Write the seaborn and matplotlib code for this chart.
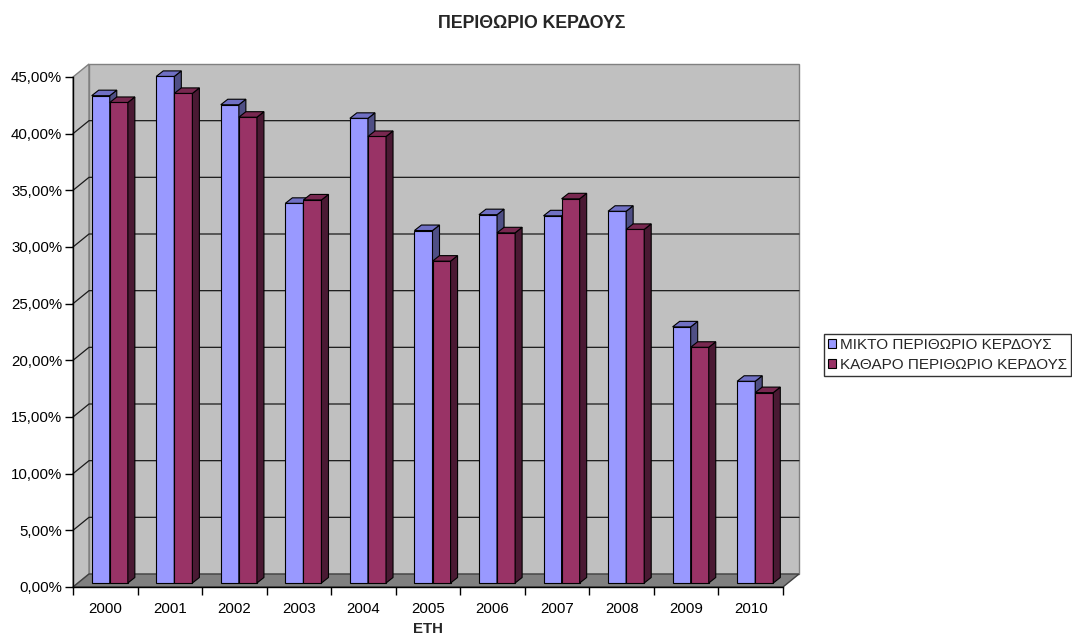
import matplotlib
matplotlib.use("Agg")
import matplotlib.pyplot as plt
from matplotlib.patches import Polygon, Patch
from matplotlib.transforms import offset_copy
import seaborn as sns
import pandas as pd

# --- data -------------------------------------------------------------
years = ["2000", "2001", "2002", "2003", "2004", "2005",
         "2006", "2007", "2008", "2009", "2010"]
mikto = [0.430, 0.447, 0.422, 0.335, 0.410, 0.311,
         0.325, 0.324, 0.328, 0.226, 0.178]
katharo = [0.424, 0.432, 0.411, 0.338, 0.394, 0.284,
           0.309, 0.339, 0.312, 0.208, 0.168]
series_names = ["ΜΙΚΤΟ ΠΕΡΙΘΩΡΙΟ ΚΕΡΔΟΥΣ", "ΚΑΘΑΡΟ ΠΕΡΙΘΩΡΙΟ ΚΕΡΔΟΥΣ"]
y_ticks = [0.00, 0.05, 0.10, 0.15, 0.20, 0.25, 0.30, 0.35, 0.40, 0.45]
y_tick_labels = ["0,00%", "5,00%", "10,00%", "15,00%", "20,00%",
                 "25,00%", "30,00%", "35,00%", "40,00%", "45,00%"]
title = "ΠΕΡΙΘΩΡΙΟ ΚΕΡΔΟΥΣ"
x_label = "ΕΤΗ"

front_colors = ["#9999FF", "#993366"]
side_colors = ["#4F4F85", "#4A1933"]
top_colors = ["#7070C4", "#782850"]

df = pd.DataFrame({
    "year": years * 2,
    "value": mikto + katharo,
    "series": [series_names[0]] * len(years) + [series_names[1]] * len(years),
})

sns.set_style("ticks")
plt.rcParams["font.family"] = ["Liberation Sans", "DejaVu Sans"]

W, H, DPI = 1072, 635, 100
fig = plt.figure(figsize=(W / DPI, H / DPI), dpi=DPI)
fig.patch.set_facecolor("white")

# front plane of the chart box, in pixels
left_px, right_px, base_px, top_px = 73, 783, 587, 77
ax = fig.add_axes([left_px / W, 1 - base_px / H,
                   (right_px - left_px) / W, (base_px - top_px) / H])
ax.set_facecolor("none")

n = len(years)
ymax = 0.45
ax.set_xlim(-0.5, n - 0.5)
ax.set_ylim(0, ymax)

px_x = (right_px - left_px) / n          # pixels per category
px_y = (base_px - top_px) / ymax          # pixels per unit value

# depth of the box (to the back wall)
D = 16 / px_x
E = 13 / px_y

x0, x1 = -0.5, n - 0.5
wall_kw = dict(closed=True, clip_on=False, linewidth=1.0)

# left side wall
ax.add_patch(Polygon([(x0, 0), (x0 + D, E), (x0 + D, ymax + E), (x0, ymax)],
                     facecolor="#C0C0C0", edgecolor="#808080", zorder=0.5, **wall_kw))
# back wall
ax.add_patch(Polygon([(x0 + D, E), (x1 + D, E), (x1 + D, ymax + E), (x0 + D, ymax + E)],
                     facecolor="#C0C0C0", edgecolor="#808080", zorder=0.5, **wall_kw))
# floor
ax.add_patch(Polygon([(x0, 0), (x1, 0), (x1 + D, E), (x0 + D, E)],
                     facecolor="#808080", edgecolor="#404040", zorder=0.6, **wall_kw))

# gridlines across side wall and back wall
for v in y_ticks[1:-1]:
    ax.plot([x0, x0 + D, x1 + D], [v, v + E, v + E], color="#1A1A1A",
            linewidth=0.9, zorder=0.7, clip_on=False)

# --- bars ---------------------------------------------------------------
sns.barplot(data=df, x="year", y="value", hue="series", palette=front_colors,
            saturation=1, width=0.56, edgecolor="black", linewidth=0.8,
            ax=ax, legend=False)

# bars stand a little behind the front edge of the floor
bar_tr = offset_copy(ax.transData, fig=fig, x=4.5, y=4, units="dots")
dd = 7 / px_x
ee = 5.5 / px_y

for k, container in enumerate(ax.containers):
    z = 2 + k
    for p in container.patches:
        x, w, h = p.get_x(), p.get_width(), p.get_height()
        p.set_transform(bar_tr)
        p.set_clip_on(False)
        p.set_zorder(z)
        side = Polygon([(x + w, 0), (x + w + dd, ee), (x + w + dd, h + ee), (x + w, h)],
                       closed=True, facecolor=side_colors[k], edgecolor="black",
                       linewidth=0.8, transform=bar_tr, clip_on=False, zorder=z)
        topf = Polygon([(x, h), (x + w, h), (x + w + dd, h + ee), (x + dd, h + ee)],
                       closed=True, facecolor=top_colors[k], edgecolor="black",
                       linewidth=0.8, transform=bar_tr, clip_on=False, zorder=z)
        ax.add_patch(side)
        ax.add_patch(topf)

# --- axes ---------------------------------------------------------------
for s in ["top", "right"]:
    ax.spines[s].set_visible(False)
for s in ["left", "bottom"]:
    ax.spines[s].set_color("black")
    ax.spines[s].set_linewidth(1.0)
    ax.spines[s].set_zorder(5)

ax.set_yticks(y_ticks)
ax.set_yticklabels(y_tick_labels)
ax.tick_params(axis="y", length=5.8, width=1.0, color="black", pad=2,
               labelsize=10.8, labelcolor="black", direction="out")

ax.set_xticks(range(n))
ax.set_xticklabels(years)
ax.set_xticks([i - 0.5 for i in range(n + 1)], minor=True)
ax.tick_params(axis="x", which="major", length=0, pad=11, labelsize=10.8,
               labelcolor="black")
ax.tick_params(axis="x", which="minor", length=5.8, width=1.0, color="black",
               direction="out")

ax.set_xlabel(x_label, fontsize=10.8, fontweight="bold", labelpad=4)
ax.set_ylabel("")

fig.text(531.5 / W, 1 - 23 / H, title, ha="center", va="center",
         fontsize=12.8, fontweight="bold")

handles = [Patch(facecolor=front_colors[i], edgecolor="black", linewidth=0.8,
                 label=series_names[i]) for i in range(2)]
leg = fig.legend(handles=handles, loc="upper left",
                 bbox_to_anchor=(824 / W, 1 - 334 / H),
                 frameon=True, fancybox=False, fontsize=11,
                 handlelength=0.55, handleheight=0.55, handletextpad=0.25,
                 labelspacing=0.4, borderpad=0.25, borderaxespad=0,
                 edgecolor="black")
leg.get_frame().set_linewidth(1.0)

fig.savefig("out.png", dpi=DPI, facecolor="white")
